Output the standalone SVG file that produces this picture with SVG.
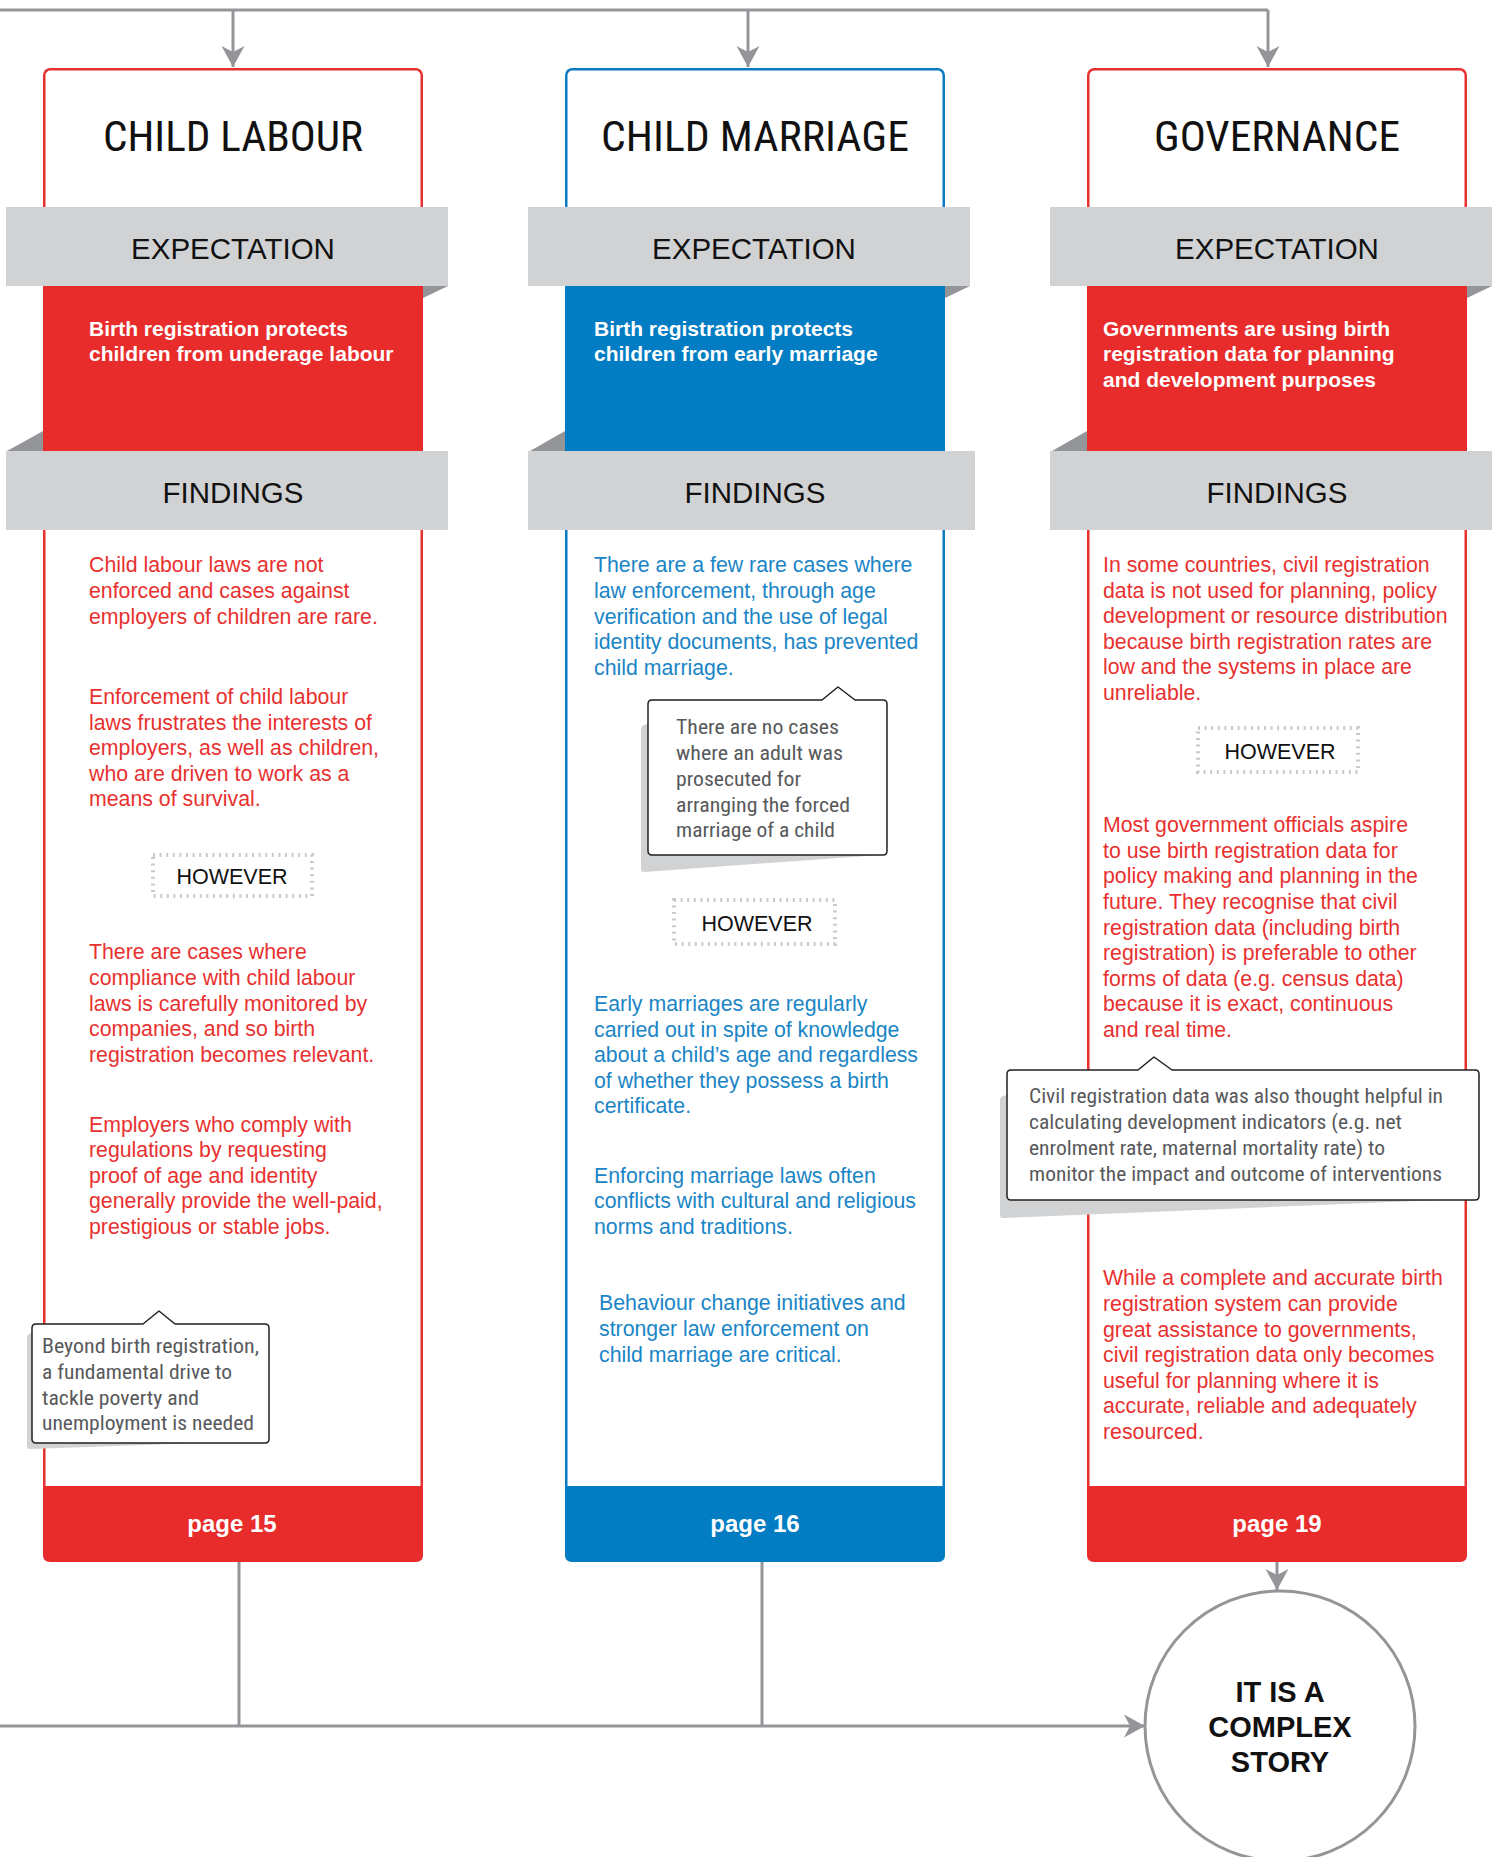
<svg xmlns="http://www.w3.org/2000/svg" width="1503" height="1857" viewBox="0 0 1503 1857">
  <style>
    .title { font-family: "Liberation Sans Narrow", "Roboto Condensed", "Liberation Sans", sans-serif; font-size: 43px; fill: #111111; text-anchor: middle; }
    .band { fill: #d1d2d4; }
    .fold { fill: #939598; }
    .bandlabel { font-family: "Liberation Sans", Arial, sans-serif; font-size: 29.5px; fill: #111111; text-anchor: middle; }
    .expect { font-family: "Liberation Sans", Arial, sans-serif; font-size: 21px; font-weight: bold; fill: #ffffff; }
    .body { font-family: "Liberation Sans", Arial, sans-serif; font-size: 21.3px; }
    .red { fill: #e8312f; }
    .blue { fill: #1a85c6; }
    .however-box { fill: none; stroke: #c9cacc; stroke-width: 4; stroke-dasharray: 2 4.6; }
    .however { font-family: "Liberation Sans", Arial, sans-serif; font-size: 21.5px; fill: #111111; text-anchor: middle; }
    .note-shadow { fill: #d1d2d4; }
    .note { fill: #ffffff; stroke: #231f20; stroke-width: 1.5; stroke-linejoin: round; }
    .notetext { font-family: "Liberation Sans Narrow", "Roboto Condensed", "Liberation Sans", sans-serif; font-size: 20px; fill: #58595b; }
    .page { font-family: "Liberation Sans", Arial, sans-serif; font-size: 24px; font-weight: bold; fill: #ffffff; text-anchor: middle; }
    .link { fill: none; stroke: #939598; stroke-width: 3; }
    .outline-red { fill: #ffffff; stroke: #e8312f; stroke-width: 2.5; }
    .outline-blue { fill: #ffffff; stroke: #0a7bc2; stroke-width: 2.5; }
    .fill-red { fill: #e82c2b; }
    .fill-blue { fill: #027cc2; }
    .story { font-family: "Liberation Sans", Arial, sans-serif; font-size: 29px; font-weight: bold; fill: #111111; text-anchor: middle; }
  </style>
  <defs>
    <marker id="arrow" markerUnits="userSpaceOnUse" markerWidth="24" markerHeight="26" viewBox="-1 -13 24 26" refX="21" refY="0" orient="auto">
      <path d="M0,-11.5 L21,0 L0,11.5 L6,0 Z" fill="#939598"/>
    </marker>
  </defs>

  <rect width="1503" height="1857" fill="#ffffff"/>

  <!-- connectors -->
  <g id="connectors">
    <path class="link" d="M0,10 H1268"/>
    <path class="link" d="M233,10 V67" marker-end="url(#arrow)"/>
    <path class="link" d="M748,10 V67" marker-end="url(#arrow)"/>
    <path class="link" d="M1268,10 V67" marker-end="url(#arrow)"/>
    <path class="link" d="M239,1562 V1726"/>
    <path class="link" d="M762,1562 V1726"/>
    <path class="link" d="M0,1726 H1145" marker-end="url(#arrow)"/>
    <path class="link" d="M1277,1562 V1590" marker-end="url(#arrow)"/>
  </g>

  <!-- column: child labour -->
  <g id="child-labour">
    <rect class="outline-red" x="44.25" y="69.25" width="377.5" height="1490" rx="6"/>
    <text class="title" x="233" y="151" textLength="260" lengthAdjust="spacingAndGlyphs">CHILD LABOUR</text>
    <rect class="fill-red" x="43" y="286" width="380" height="165"/>
    <polygon class="fold" points="423,286 448,286 423,298"/>
    <polygon class="fold" points="43,431 43,451 7,451"/>
    <rect class="band" x="6" y="207" width="442" height="79"/>
    <text class="bandlabel" x="233" y="259">EXPECTATION</text>
    <text class="expect" x="89" y="336">Birth registration protects</text>
    <text class="expect" x="89" y="361">children from underage labour</text>
    <rect class="band" x="6" y="451" width="442" height="79"/>
    <text class="bandlabel" x="233" y="503">FINDINGS</text>
    <text class="body red">
      <tspan x="89" y="572">Child labour laws are not</tspan>
      <tspan x="89" y="598">enforced and cases against</tspan>
      <tspan x="89" y="624">employers of children are rare.</tspan>
      <tspan x="89" y="704">Enforcement of child labour</tspan>
      <tspan x="89" y="729.5">laws frustrates the interests of</tspan>
      <tspan x="89" y="755">employers, as well as children,</tspan>
      <tspan x="89" y="780.5">who are driven to work as a</tspan>
      <tspan x="89" y="806">means of survival.</tspan>
      <tspan x="89" y="959">There are cases where</tspan>
      <tspan x="89" y="985">compliance with child labour</tspan>
      <tspan x="89" y="1011">laws is carefully monitored by</tspan>
      <tspan x="89" y="1036">companies, and so birth</tspan>
      <tspan x="89" y="1062">registration becomes relevant.</tspan>
      <tspan x="89" y="1132">Employers who comply with</tspan>
      <tspan x="89" y="1157">regulations by requesting</tspan>
      <tspan x="89" y="1182.5">proof of age and identity</tspan>
      <tspan x="89" y="1208">generally provide the well-paid,</tspan>
      <tspan x="89" y="1234">prestigious or stable jobs.</tspan>
    </text>
    <rect class="however-box" x="153" y="855" width="159" height="41"/>
    <text class="however" x="232" y="884">HOWEVER</text>
    <path class="note-shadow" d="M32,1333 L29,1334 Q27,1335 27,1338 L27,1446 Q27,1449 30,1449 L200,1443 L32,1443 Z"/>
    <path class="note" d="M36,1324 H143 L159,1311 L175,1324 H265 Q269,1324 269,1328 V1439 Q269,1443 265,1443 H36 Q32,1443 32,1439 V1328 Q32,1324 36,1324 Z"/>
    <text class="notetext">
      <tspan x="42" y="1353" textLength="217" lengthAdjust="spacingAndGlyphs">Beyond birth registration,</tspan>
      <tspan x="42" y="1379" textLength="190" lengthAdjust="spacingAndGlyphs">a fundamental drive to</tspan>
      <tspan x="42" y="1405" textLength="157" lengthAdjust="spacingAndGlyphs">tackle poverty and</tspan>
      <tspan x="42" y="1430" textLength="212" lengthAdjust="spacingAndGlyphs">unemployment is needed</tspan>
    </text>
    <path class="fill-red" d="M43,1486 H423 V1555 Q423,1562 416,1562 H50 Q43,1562 43,1555 Z"/>
    <text class="page" x="232" y="1532">page 15</text>
  </g>

  <!-- column: child marriage -->
  <g id="child-marriage">
    <rect class="outline-blue" x="566.25" y="69.25" width="377.5" height="1490" rx="6"/>
    <text class="title" x="755" y="151" textLength="308" lengthAdjust="spacingAndGlyphs">CHILD MARRIAGE</text>
    <rect class="fill-blue" x="565" y="286" width="380" height="165"/>
    <polygon class="fold" points="945,286 970,286 945,298"/>
    <polygon class="fold" points="565,431 565,451 530,451"/>
    <rect class="band" x="528" y="207" width="442" height="79"/>
    <text class="bandlabel" x="754" y="259">EXPECTATION</text>
    <text class="expect" x="594" y="336">Birth registration protects</text>
    <text class="expect" x="594" y="361">children from early marriage</text>
    <rect class="band" x="528" y="451" width="447" height="79"/>
    <text class="bandlabel" x="755" y="503">FINDINGS</text>
    <text class="body blue">
      <tspan x="594" y="572">There are a few rare cases where</tspan>
      <tspan x="594" y="598">law enforcement, through age</tspan>
      <tspan x="594" y="623.5">verification and the use of legal</tspan>
      <tspan x="594" y="649">identity documents, has prevented</tspan>
      <tspan x="594" y="674.5">child marriage.</tspan>
      <tspan x="594" y="1011">Early marriages are regularly</tspan>
      <tspan x="594" y="1036.5">carried out in spite of knowledge</tspan>
      <tspan x="594" y="1062">about a child’s age and regardless</tspan>
      <tspan x="594" y="1087.5">of whether they possess a birth</tspan>
      <tspan x="594" y="1113">certificate.</tspan>
      <tspan x="594" y="1183">Enforcing marriage laws often</tspan>
      <tspan x="594" y="1208">conflicts with cultural and religious</tspan>
      <tspan x="594" y="1233.5">norms and traditions.</tspan>
      <tspan x="599" y="1310">Behaviour change initiatives and</tspan>
      <tspan x="599" y="1336">stronger law enforcement on</tspan>
      <tspan x="599" y="1361.5">child marriage are critical.</tspan>
    </text>
    <path class="note-shadow" d="M648,724 L644,725 Q641,726 641,730 L641,869 Q641,872 644,872 L880,855 L648,855 Z"/>
    <path class="note" d="M652,700 H822 L838,687 L855,700 H883 Q887,700 887,704 V851 Q887,855 883,855 H652 Q648,855 648,851 V704 Q648,700 652,700 Z"/>
    <text class="notetext">
      <tspan x="676" y="734" textLength="163" lengthAdjust="spacingAndGlyphs">There are no cases</tspan>
      <tspan x="676" y="760" textLength="167" lengthAdjust="spacingAndGlyphs">where an adult was</tspan>
      <tspan x="676" y="785.5" textLength="125" lengthAdjust="spacingAndGlyphs">prosecuted for</tspan>
      <tspan x="676" y="811.5" textLength="174" lengthAdjust="spacingAndGlyphs">arranging the forced</tspan>
      <tspan x="676" y="837" textLength="159" lengthAdjust="spacingAndGlyphs">marriage of a child</tspan>
    </text>
    <rect class="however-box" x="674" y="900" width="161" height="44"/>
    <text class="however" x="757" y="931">HOWEVER</text>
    <path class="fill-blue" d="M565,1486 H945 V1555 Q945,1562 938,1562 H572 Q565,1562 565,1555 Z"/>
    <text class="page" x="755" y="1532">page 16</text>
  </g>

  <!-- column: governance -->
  <g id="governance">
    <rect class="outline-red" x="1088.25" y="69.25" width="377.5" height="1490" rx="6"/>
    <text class="title" x="1277" y="151" textLength="246" lengthAdjust="spacingAndGlyphs">GOVERNANCE</text>
    <rect class="fill-red" x="1087" y="286" width="380" height="165"/>
    <polygon class="fold" points="1467,286 1492,286 1467,298"/>
    <polygon class="fold" points="1087,431 1087,451 1052,451"/>
    <rect class="band" x="1050" y="207" width="442" height="79"/>
    <text class="bandlabel" x="1277" y="259">EXPECTATION</text>
    <text class="expect" x="1103" y="336">Governments are using birth</text>
    <text class="expect" x="1103" y="361">registration data for planning</text>
    <text class="expect" x="1103" y="387">and development purposes</text>
    <rect class="band" x="1050" y="451" width="442" height="79"/>
    <text class="bandlabel" x="1277" y="503">FINDINGS</text>
    <text class="body red">
      <tspan x="1103" y="572">In some countries, civil registration</tspan>
      <tspan x="1103" y="597.5">data is not used for planning, policy</tspan>
      <tspan x="1103" y="623">development or resource distribution</tspan>
      <tspan x="1103" y="648.5">because birth registration rates are</tspan>
      <tspan x="1103" y="674">low and the systems in place are</tspan>
      <tspan x="1103" y="699.5">unreliable.</tspan>
      <tspan x="1103" y="832">Most government officials aspire</tspan>
      <tspan x="1103" y="857.5">to use birth registration data for</tspan>
      <tspan x="1103" y="883">policy making and planning in the</tspan>
      <tspan x="1103" y="908.5">future. They recognise that civil</tspan>
      <tspan x="1103" y="934.5">registration data (including birth</tspan>
      <tspan x="1103" y="960">registration) is preferable to other</tspan>
      <tspan x="1103" y="985.5">forms of data (e.g. census data)</tspan>
      <tspan x="1103" y="1011">because it is exact, continuous</tspan>
      <tspan x="1103" y="1036.5">and real time.</tspan>
      <tspan x="1103" y="1285">While a complete and accurate birth</tspan>
      <tspan x="1103" y="1311">registration system can provide</tspan>
      <tspan x="1103" y="1336.5">great assistance to governments,</tspan>
      <tspan x="1103" y="1362">civil registration data only becomes</tspan>
      <tspan x="1103" y="1387.5">useful for planning where it is</tspan>
      <tspan x="1103" y="1413">accurate, reliable and adequately</tspan>
      <tspan x="1103" y="1438.5">resourced.</tspan>
    </text>
    <rect class="however-box" x="1198" y="728" width="160" height="44"/>
    <text class="however" x="1280" y="759">HOWEVER</text>
    <path class="note-shadow" d="M1007,1095 L1003,1096 Q1000,1097 1000,1100 L1000,1215 Q1000,1218 1003,1218 L1440,1200 L1007,1200 Z"/>
    <path class="note" d="M1011,1070 H1138 L1154,1057 L1172,1070 H1475 Q1479,1070 1479,1074 V1196 Q1479,1200 1475,1200 H1011 Q1007,1200 1007,1196 V1074 Q1007,1070 1011,1070 Z"/>
    <text class="notetext">
      <tspan x="1029" y="1103" textLength="414" lengthAdjust="spacingAndGlyphs">Civil registration data was also thought helpful in</tspan>
      <tspan x="1029" y="1129" textLength="373" lengthAdjust="spacingAndGlyphs">calculating development indicators (e.g. net</tspan>
      <tspan x="1029" y="1155" textLength="356" lengthAdjust="spacingAndGlyphs">enrolment rate, maternal mortality rate) to</tspan>
      <tspan x="1029" y="1181" textLength="413" lengthAdjust="spacingAndGlyphs">monitor the impact and outcome of interventions</tspan>
    </text>
    <path class="fill-red" d="M1087,1486 H1467 V1555 Q1467,1562 1460,1562 H1094 Q1087,1562 1087,1555 Z"/>
    <text class="page" x="1277" y="1532">page 19</text>
  </g>

  <!-- conclusion -->
  <g id="complex-story">
    <circle cx="1280" cy="1726" r="135" fill="#ffffff" stroke="#939598" stroke-width="3"/>
    <text class="story" x="1280" y="1702">IT IS A</text>
    <text class="story" x="1280" y="1737">COMPLEX</text>
    <text class="story" x="1280" y="1772">STORY</text>
  </g>
</svg>
